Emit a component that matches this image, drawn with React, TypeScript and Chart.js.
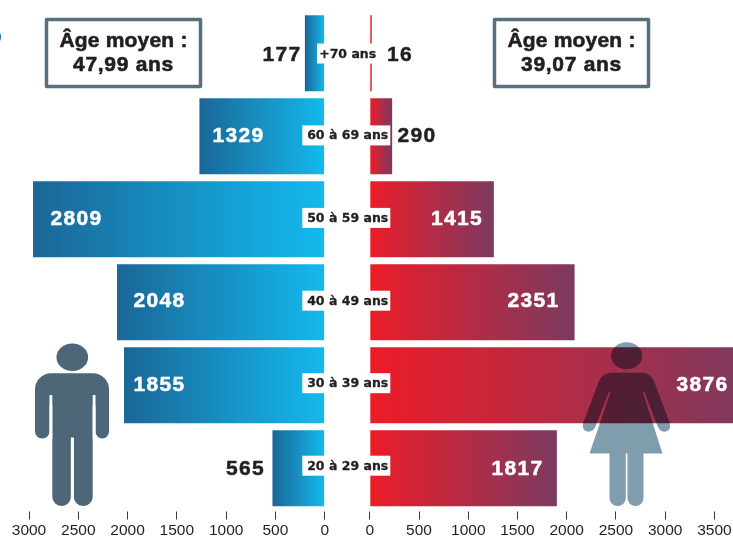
import React, { useEffect, useRef } from "react";
import { Chart, registerables } from "chart.js";

Chart.register(...registerables);

const ageGroups = ["+70 ans", "60 à 69 ans", "50 à 59 ans", "40 à 49 ans", "30 à 39 ans", "20 à 29 ans"];
const menBars = [201, 1271, 2959, 2107, 2036, 530];
const womenBars = [20, 227, 1260, 2080, 3876, 1900];
const menLabels = ["177", "1329", "2809", "2048", "1855", "565"];
const womenLabels = ["16", "290", "1415", "2351", "3876", "1817"];
const menTicks = [0, 500, 1000, 1500, 2000, 2500, 3000];
const womenTicks = [0, 500, 1000, 1500, 2000, 2500, 3000, 3500];
const menAverage = ["Âge moyen :", "47,99 ans"];
const womenAverage = ["Âge moyen :", "39,07 ans"];

const SANS = '"Liberation Sans", Arial, sans-serif';
const INK = "#231f20";
const SLATE = "#4d6779";

// [text centre x, colour] of each value label, per row
const menLabelStyle: [number, string][] = [
  [282, INK], [238.5, "#fff"], [76.5, "#fff"], [159.5, "#fff"], [159.5, "#fff"], [245.5, INK],
];
const womenLabelStyle: [number, string][] = [
  [400, INK], [417, INK], [457, "#fff"], [533.5, "#fff"], [702.5, "#fff"], [517.5, "#fff"],
];
// vertical nudge of the value labels and of the age tags relative to each row's centre
const rowNudge = [1.5, -1, -1, -2, -0.5, 0];
const tagNudge = [0.3, -0.8, -1.3, -1.5, -2, -2.5];

function text(c: CanvasRenderingContext2D, s: string, x: number, y: number, font: string, color: string, spacing = "0px", weight = 0) {
  c.font = font;
  c.fillStyle = color;
  c.textAlign = "center";
  c.textBaseline = "middle";
  (c as any).letterSpacing = spacing;
  c.fillText(s, x, y);
  if (weight > 0) {
    c.strokeStyle = color;
    c.lineWidth = weight;
    c.lineJoin = "round";
    c.strokeText(s, x, y);
  }
  (c as any).letterSpacing = "0px";
}

function box(c: CanvasRenderingContext2D, x: number, lines: string[]) {
  c.strokeStyle = "#56707f";
  c.lineWidth = 3.5;
  c.strokeRect(x, 19.5, 154, 67);
  text(c, lines[0], x + 77, 41, `bold 21px ${SANS}`, INK, "0.2px", 0.6);
  text(c, lines[1], x + 77, 65, `bold 21px ${SANS}`, INK, "0.7px", 0.6);
}

function drawMan(c: CanvasRenderingContext2D) {
  c.save();
  c.fillStyle = SLATE;
  c.beginPath();
  c.ellipse(72.3, 357.3, 15.8, 13.8, 0, 0, Math.PI * 2);
  c.fill();
  c.beginPath();
  c.roundRect(35, 373.3, 74, 32, [16, 16, 0, 0]);
  c.fill();
  c.beginPath();
  c.roundRect(35, 395, 14.5, 43.5, [0, 0, 7, 7]);
  c.roundRect(95.5, 395, 13.5, 43.5, [0, 0, 7, 7]);
  c.rect(52.3, 395, 40.4, 43);
  c.roundRect(52.3, 436, 18.6, 70, [0, 0, 9, 9]);
  c.roundRect(73.8, 436, 18.9, 70, [0, 0, 9, 9]);
  c.fill();
  c.fillStyle = "#fff";
  c.fillRect(49.5, 395, 2.8, 44);
  c.fillRect(92.7, 395, 2.8, 44);
  c.fillRect(70.9, 437.5, 2.9, 70);
  c.restore();
}

function drawWoman(c: CanvasRenderingContext2D) {
  c.save();
  c.globalCompositeOperation = "multiply";
  c.fillStyle = "#7f9dac";
  c.beginPath();
  c.ellipse(626.7, 355.7, 15.7, 13.5, 0, 0, Math.PI * 2);
  c.moveTo(611, 372.7);
  c.lineTo(643, 372.7);
  c.quadraticCurveTo(650, 373, 654, 381);
  c.lineTo(669.8, 423);
  c.quadraticCurveTo(671.5, 431.5, 664.5, 431.7);
  c.quadraticCurveTo(659.5, 431.7, 657.5, 426);
  c.lineTo(644.3, 391.5);
  c.lineTo(642.8, 392);
  c.lineTo(662.5, 453.5);
  c.lineTo(589.5, 453.5);
  c.lineTo(610.5, 392);
  c.lineTo(609, 391.5);
  c.lineTo(595.7, 426);
  c.quadraticCurveTo(593.5, 431.7, 588.5, 431.7);
  c.quadraticCurveTo(581.5, 431.5, 583.2, 423);
  c.lineTo(599, 381);
  c.quadraticCurveTo(603, 373, 611, 372.7);
  c.closePath();
  c.roundRect(609.5, 453, 16.3, 53, [0, 0, 8, 8]);
  c.roundRect(627.5, 453, 16, 53, [0, 0, 8, 8]);
  c.fill();
  c.restore();
}

function barGradient(from: string, to: string) {
  return (ctx: any) => {
    const chart = ctx.chart;
    const xs = chart.scales.x;
    if (!xs || typeof ctx.raw !== "number") return from;
    const x0 = xs.getPixelForValue(0);
    let x1 = xs.getPixelForValue(ctx.raw);
    if (!Number.isFinite(x0) || !Number.isFinite(x1)) return from;
    // a hairline bar keeps the start colour of the ramp
    if (Math.abs(x1 - x0) < 5) x1 = x0 + 40;
    const g = chart.ctx.createLinearGradient(x0, 0, x1, 0);
    g.addColorStop(0, from);
    g.addColorStop(1, to);
    return g;
  };
}

const valueFont = `bold 21px ${SANS}`;

function rowLabels(chart: any, labels: string[], style: [number, string][]) {
  const c = chart.ctx;
  const ys = chart.scales.y;
  labels.forEach((s, i) => {
    text(c, s, style[i][0], ys.getPixelForValue(i) + rowNudge[i] + 1, valueFont, style[i][1], "1.3px", 0.5);
  });
}

const menOverlay = {
  id: "menOverlay",
  afterDraw(chart: any) {
    const c = chart.ctx;
    rowLabels(chart, menLabels, menLabelStyle);
    box(c, 46.5, menAverage);
    drawMan(c);
    c.fillStyle = "#1a6a9a";
    c.beginPath();
    c.arc(-8, 37, 9, 0, Math.PI * 2);
    c.fill();
  },
};

const womenOverlay = {
  id: "womenOverlay",
  afterDraw(chart: any) {
    const c = chart.ctx;
    const ys = chart.scales.y;
    drawWoman(c);
    rowLabels(chart, womenLabels, womenLabelStyle);
    box(c, 494.5, womenAverage);
    ageGroups.forEach((s, i) => {
      const y = ys.getPixelForValue(i) + tagNudge[i];
      const first = i === 0;
      c.fillStyle = "#fff";
      c.fillRect(first ? 317 : 302.3, y - 10, first ? 60 : 88, 20);
      text(c, s, 347.7, y + 0.8, `bold 12.5px "DejaVu Sans", sans-serif`, INK, "0px", 0.3);
    });
  },
};

function config(data: number[], tickValues: number[], from: string, to: string, reverse: boolean, max: number, padding: any, overlay: any): any {
  return {
    type: "bar",
    data: {
      labels: ageGroups,
      datasets: [
        {
          data,
          backgroundColor: barGradient(from, to),
          barPercentage: 76 / 83,
          categoryPercentage: 1,
          borderWidth: 0,
        },
      ],
    },
    options: {
      indexAxis: "y",
      responsive: false,
      animation: false,
      layout: { padding },
      plugins: { legend: { display: false }, tooltip: { enabled: false } },
      scales: {
        x: {
          type: "linear",
          reverse,
          min: 0,
          max,
          border: { display: false },
          afterBuildTicks: (s: any) => {
            s.ticks = tickValues.map((value) => ({ value }));
          },
          afterFit: (s: any) => {
            s.height = 27.3;
            s.paddingLeft = 0;
            s.paddingRight = 0;
          },
          grid: {
            drawOnChartArea: false,
            tickLength: 10,
            tickColor: "#3a3a3a",
            tickWidth: 1,
            tickBorderDash: [0, 1.5, 8, 100],
          },
          ticks: {
            autoSkip: false,
            maxRotation: 0,
            padding: 2,
            color: INK,
            font: { family: SANS, size: 15.5 },
            callback: (v: any) => String(v),
          },
        },
        y: { type: "category", display: false },
      },
    },
    plugins: [overlay],
  };
}

export default function App() {
  const leftRef = useRef<HTMLCanvasElement>(null);
  const rightRef = useRef<HTMLCanvasElement>(null);
  useEffect(() => {
    const left = new Chart(
      leftRef.current!,
      config(menBars, menTicks, "#14b9ee", "#1a6797", true, 3000, { left: 29, right: 408.3, top: 11.7, bottom: 0 }, menOverlay)
    );
    const right = new Chart(
      rightRef.current!,
      config(womenBars, womenTicks, "#ec1c28", "#7c3a60", false, 3689, { left: 369.8, right: 0, top: 11.7, bottom: 0 }, womenOverlay)
    );
    return () => {
      left.destroy();
      right.destroy();
    };
  }, []);
  const style: React.CSSProperties = { position: "absolute", left: 0, top: 0 };
  return (
    <div style={{ position: "absolute", left: 0, top: 0, width: 733, height: 537, overflow: "hidden", background: "#fff" }}>
      <canvas ref={leftRef} width={733} height={537} style={style} />
      <canvas ref={rightRef} width={733} height={537} style={style} />
    </div>
  );
}
